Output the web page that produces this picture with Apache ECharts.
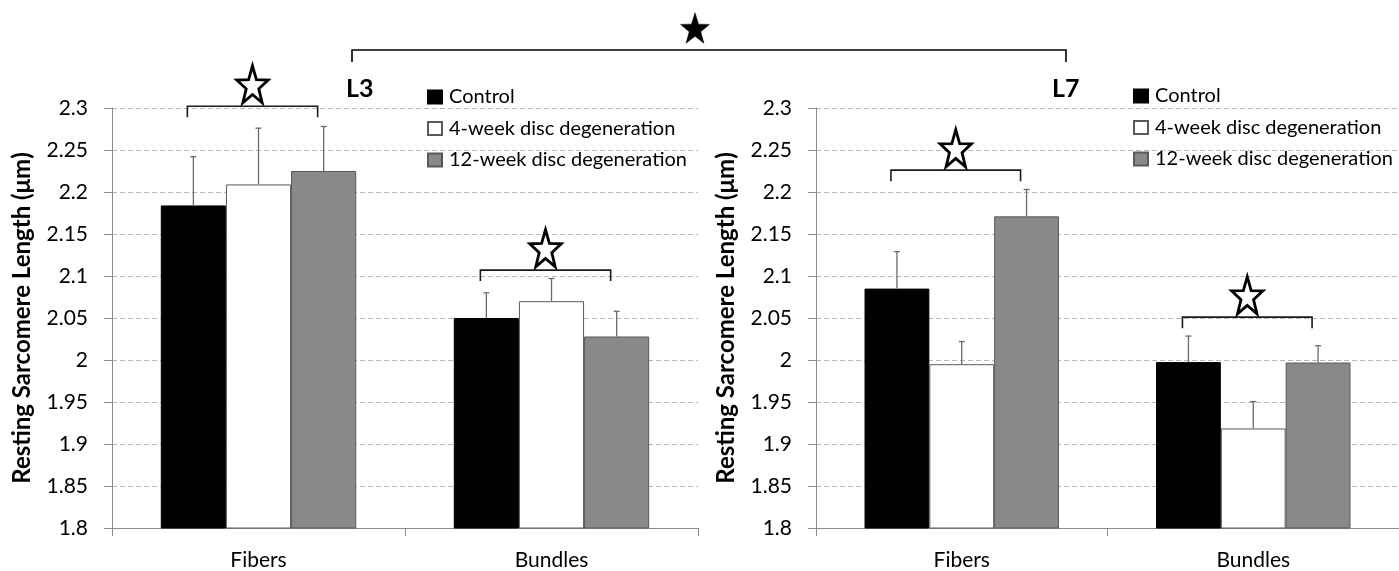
<!DOCTYPE html>
<html><head><meta charset="utf-8">
<script src="https://cdn.jsdelivr.net/npm/echarts@6/dist/echarts.min.js"></script>
<style>html,body{margin:0;padding:0;background:#fff}#c{width:1399px;height:571px}</style>
</head><body><div id="c"></div>
<script>
const categories = ['Fibers', 'Bundles'];
const seriesNames = ['Control', '4-week disc degeneration', '12-week disc degeneration'];
const yTickLabels = ['1.8','1.85','1.9','1.95','2','2.05','2.1','2.15','2.2','2.25','2.3'];
// L3 panel
const l3Control = [2.184, 2.050];
const l3Week4 = [2.209, 2.070];
const l3Week12 = [2.225, 2.028];
const l3ControlErr = [0.058, 0.030];
const l3Week4Err = [0.067, 0.027];
const l3Week12Err = [0.053, 0.030];
const l3Brackets = [2.302, 2.107];
// L7 panel
const l7Control = [2.085, 1.9975];
const l7Week4 = [1.995, 1.9185];
const l7Week12 = [2.171, 1.997];
const l7ControlErr = [0.044, 0.031];
const l7Week4Err = [0.027, 0.032];
const l7Week12Err = [0.032, 0.020];
const l7Brackets = [2.226, 2.051];
const panelLabels = ['L3', 'L7'];
const yName = 'Resting Sarcomere Length (μm)';

const FONT = 'Lato';
const fills = ['#000000', '#ffffff', '#898989'];
const borders = ['#000000', '#5a5a5a', '#595959'];
const GAP = 0.333;

function starPoints(cx, cy, rx, ry, inner) {
  const pts = [];
  for (let i = 0; i < 10; i++) {
    const r = i % 2 === 0 ? 1 : inner;
    const a = -Math.PI / 2 + i * Math.PI / 5;
    pts.push([cx + rx * r * Math.cos(a), cy + ry * r * Math.sin(a)]);
  }
  return pts;
}

function barOffset(api, idx) {
  const band = api.size([1, 0])[0];
  const bw = band * (1 - GAP) / 3;
  return (idx - 1) * bw;
}

function errorSeries(gi, vals, errs) {
  const data = [];
  vals.forEach((arr, si) => arr.forEach((v, ci) => data.push([ci, v, errs[si][ci], si])));
  return {
    type: 'custom', xAxisIndex: gi, yAxisIndex: gi, z: 5, silent: true,
    encode: { x: 0, y: 1 },
    data: data,
    renderItem: function (params, api) {
      const ci = api.value(0), v = api.value(1), e = api.value(2), si = api.value(3);
      const base = api.coord([ci, v]);
      const top = api.coord([ci, v + e]);
      const x = base[0] + barOffset(api, si);
      return {
        type: 'group', children: [
          { type: 'line', shape: { x1: x, y1: base[1], x2: x, y2: top[1] }, style: { stroke: '#6b6b6b', lineWidth: 1.3 } },
          { type: 'line', shape: { x1: x - 3, y1: top[1], x2: x + 3, y2: top[1] }, style: { stroke: '#6b6b6b', lineWidth: 1.3 } }
        ]
      };
    }
  };
}

function bracketSeries(gi, levels) {
  return {
    type: 'custom', xAxisIndex: gi, yAxisIndex: gi, z: 6, silent: true, clip: false,
    encode: { x: 0, y: 1 },
    data: levels.map((v, ci) => [ci, v]),
    renderItem: function (params, api) {
      const ci = api.value(0), v = api.value(1);
      const p = api.coord([ci, v]);
      const x1 = p[0] + barOffset(api, 0) - 6;
      const x2 = p[0] + barOffset(api, 2) - 6;
      const y = p[1];
      const cx = (x1 + x2) / 2;
      return {
        type: 'group', children: [
          { type: 'polyline', shape: { points: [[x1, y + 11], [x1, y], [x2, y], [x2, y + 11]] }, style: { stroke: '#1a1a1a', lineWidth: 1.6, fill: null } },
          { type: 'polygon', shape: { points: starPoints(cx, y - 20, 16.5, 20.5, 0.4) }, style: { fill: '#ffffff', stroke: '#000000', lineWidth: 2.8 } }
        ]
      };
    }
  };
}

function barSeries(gi, vals) {
  return vals.map((arr, si) => ({
    type: 'bar', name: seriesNames[si], xAxisIndex: gi, yAxisIndex: gi,
    data: arr, barGap: '0%', barCategoryGap: (GAP * 100) + '%',
    itemStyle: { color: fills[si], borderColor: borders[si], borderWidth: 1 },
    emphasis: { disabled: true }
  }));
}

const grids = [
  { left: 112, top: 108, width: 586, height: 420, outerBoundsMode: 'none', containLabel: false },
  { left: 816, top: 108, width: 583, height: 420, outerBoundsMode: 'none', containLabel: false }
];

function xAxis(gi) {
  return {
    type: 'category', gridIndex: gi, data: categories,
    axisLine: { lineStyle: { color: '#8c8c8c', width: 1 } },
    axisTick: { show: true, length: 8, lineStyle: { color: '#8c8c8c' } },
    axisLabel: { color: '#000', fontFamily: FONT, fontSize: 21, margin: 22 }
  };
}
function yAxis(gi) {
  return {
    type: 'value', gridIndex: gi, min: 1.8, max: 2.3, interval: 0.05,
    name: yName, nameLocation: 'middle', nameGap: 78,
    nameTextStyle: { color: '#000', fontFamily: FONT, fontWeight: 'bold', fontSize: 24 },
    axisLine: { show: true, lineStyle: { color: '#8c8c8c', width: 1 } },
    axisTick: { show: true, length: 8, lineStyle: { color: '#8c8c8c' } },
    axisLabel: { color: '#000', fontFamily: FONT, fontSize: 21, margin: 24,
      formatter: (v) => yTickLabels.find(t => Math.abs(parseFloat(t) - v) < 1e-6) || '' },
    splitLine: { show: true, lineStyle: { color: '#b8b8b8', type: [5, 3], width: 1 } }
  };
}

const legendBase = {
  orient: 'vertical', icon: 'rect', itemWidth: 14, itemHeight: 13, itemGap: 7.5,
  padding: 0, selectedMode: false, data: seriesNames,
  textStyle: { color: '#000', fontFamily: FONT, fontSize: 20, lineHeight: 24, padding: [0, 0, 0, 2] }
};

const option = {
  animation: false,
  backgroundColor: '#ffffff',
  grid: grids,
  xAxis: [xAxis(0), xAxis(1)],
  yAxis: [yAxis(0), yAxis(1)],
  legend: [
    Object.assign({}, legendBase, { left: 427, top: 85 }),
    Object.assign({}, legendBase, { left: 1133, top: 84 })
  ],
  graphic: [
    { type: 'text', left: 346, top: 76, style: { text: panelLabels[0], font: 'bold 25px ' + FONT, fill: '#000' } },
    { type: 'text', left: 1052, top: 76, style: { text: panelLabels[1], font: 'bold 25px ' + FONT, fill: '#000' } },
    { type: 'polyline', shape: { points: [[352, 62], [352, 50], [1066, 50], [1066, 62]] }, style: { stroke: '#000', lineWidth: 1.6, fill: null } },
    { type: 'polygon', shape: { points: starPoints(695, 29.6, 15.2, 16.9, 0.4) }, style: { fill: '#000', stroke: '#000', lineWidth: 0.5 } }
  ],
  series: [].concat(
    barSeries(0, [l3Control, l3Week4, l3Week12]),
    barSeries(1, [l7Control, l7Week4, l7Week12]),
    [errorSeries(0, [l3Control, l3Week4, l3Week12], [l3ControlErr, l3Week4Err, l3Week12Err]),
     errorSeries(1, [l7Control, l7Week4, l7Week12], [l7ControlErr, l7Week4Err, l7Week12Err]),
     bracketSeries(0, l3Brackets),
     bracketSeries(1, l7Brackets)]
  )
};

const chart = echarts.init(document.getElementById('c'), null, { renderer: 'canvas' });
chart.setOption(option);
</script></body></html>
